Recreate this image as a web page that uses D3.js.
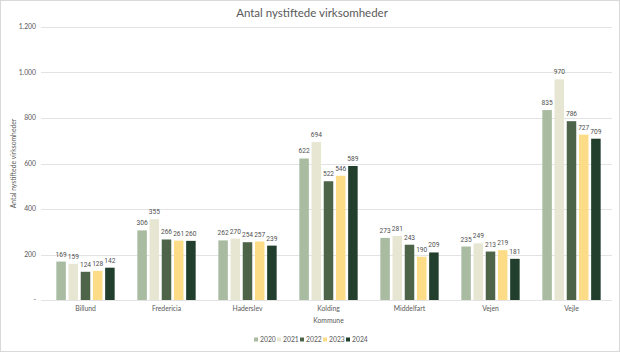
<!DOCTYPE html>
<html lang="da">
<head>
<meta charset="UTF-8">
<script src="https://cdn.jsdelivr.net/npm/d3@7"></script>
<style>
  body { margin: 0; background: #fff; }
  svg text { font-family: Lato, "Open Sans", sans-serif; fill: #595959; }
  svg text.val { font-family: Roboto, "Open Sans", sans-serif; fill: #505050; }
</style>
</head>
<body>
<div id="chart"></div>
<script>
// data
var kommuner = ["Billund", "Fredericia", "Haderslev", "Kolding", "Middelfart", "Vejen", "Vejle"];
var years = ["2020", "2021", "2022", "2023", "2024"];
var v2020 = [169, 306, 262, 622, 273, 235, 835];
var v2021 = [159, 355, 270, 694, 281, 249, 970];
var v2022 = [124, 266, 254, 522, 243, 213, 786];
var v2023 = [128, 261, 257, 546, 190, 219, 727];
var v2024 = [142, 260, 239, 589, 209, 181, 709];
var yTicks = [0, 200, 400, 600, 800, 1000, 1200];
var colors = ["#a9bca2", "#e7e6d3", "#4e6449", "#fddc87", "#223f2e"];

var series = [v2020, v2021, v2022, v2023, v2024];

var W = 620, H = 352;
var margin = {top: 27, left: 45, right: 8, bottom: 52};
var cw = W - margin.left - margin.right,
    ch = H - margin.top - margin.bottom;

var svg = d3.select("#chart").append("svg").attr("width", W).attr("height", H);

// ramme
svg.append("rect").attr("x", 0.5).attr("y", 0.5).attr("width", W - 1).attr("height", H - 1)
  .attr("fill", "#fff").attr("stroke", "#d9d9d9");

var g = svg.append("g").attr("transform", `translate(${margin.left},${margin.top})`);

var y = d3.scaleLinear().domain([0, 1200]).range([ch, 0]);
var x0 = d3.scaleBand().domain(kommuner).range([0, cw]).paddingInner(0.28).paddingOuter(0.14);
var x1 = d3.scaleBand().domain(years).range([0, x0.bandwidth()]).paddingInner(0.22);

// gridlines
g.selectAll(".grid").data(yTicks).enter().append("line")
  .attr("x1", -4).attr("x2", cw)
  .attr("y1", d => Math.round(y(d)) + 0.5).attr("y2", d => Math.round(y(d)) + 0.5)
  .attr("stroke", "#e3e3e3").attr("stroke-width", 1);

// y tick labels, dansk format
var fmt = function(d) {
  if (d === 0) return "-";
  return d3.format(",")(d).replace(/,/g, ".");
};
g.selectAll(".ytick").data(yTicks).enter().append("text")
  .attr("x", -9).attr("y", d => y(d)).attr("dy", "0.35em")
  .attr("text-anchor", "end").attr("font-size", 6.8)
  .text(fmt);

// bars
var grp = g.selectAll(".kom").data(kommuner).enter().append("g")
  .attr("transform", d => `translate(${x0(d)},0)`);

grp.each(function(k, i) {
  var sel = d3.select(this);
  var vals = years.map((yr, j) => ({yr: yr, v: series[j][i], c: colors[j]}));
  sel.selectAll("rect").data(vals).enter().append("rect")
    .attr("x", d => x1(d.yr)).attr("width", x1.bandwidth())
    .attr("y", d => y(d.v)).attr("height", d => ch - y(d.v))
    .attr("fill", d => d.c);
  sel.selectAll("text").data(vals).enter().append("text")
    .attr("class", "val")
    .attr("x", d => x1(d.yr) + x1.bandwidth() / 2)
    .attr("y", d => y(d.v) - 5)
    .attr("text-anchor", "middle").attr("font-size", 6.6)
    .text(d => d.v);
});

// kategori labels
g.selectAll(".xlab").data(kommuner).enter().append("text")
  .attr("x", d => x0(d) + x0.bandwidth() / 2).attr("y", ch + 11)
  .attr("text-anchor", "middle").attr("font-size", 6.8)
  .text(d => d);

// akse titler
g.append("text").attr("x", cw / 2).attr("y", ch + 23)
  .attr("text-anchor", "middle").attr("font-size", 6.8).text("Kommune");

svg.append("text")
  .attr("transform", `translate(16,${margin.top + ch / 2}) rotate(-90)`)
  .attr("text-anchor", "middle").attr("font-size", 6.8)
  .text("Antal nystiftede virksomheder");

// titel
svg.append("text").attr("x", 312).attr("y", 17)
  .attr("text-anchor", "middle").attr("font-size", 11.5)
  .text("Antal nystiftede virksomheder");

// legend
var leg = svg.append("g").attr("transform", "translate(254,340)");
var li = leg.selectAll("g").data(years).enter().append("g")
  .attr("transform", (d, i) => `translate(${i * 23},0)`);
li.append("rect").attr("x", 0).attr("y", -2.5).attr("width", 4).attr("height", 4)
  .attr("fill", (d, i) => colors[i]);
li.append("text").attr("x", 6).attr("y", 0).attr("dy", "0.35em")
  .attr("font-size", 6.8).text(d => d);
</script>
</body>
</html>
